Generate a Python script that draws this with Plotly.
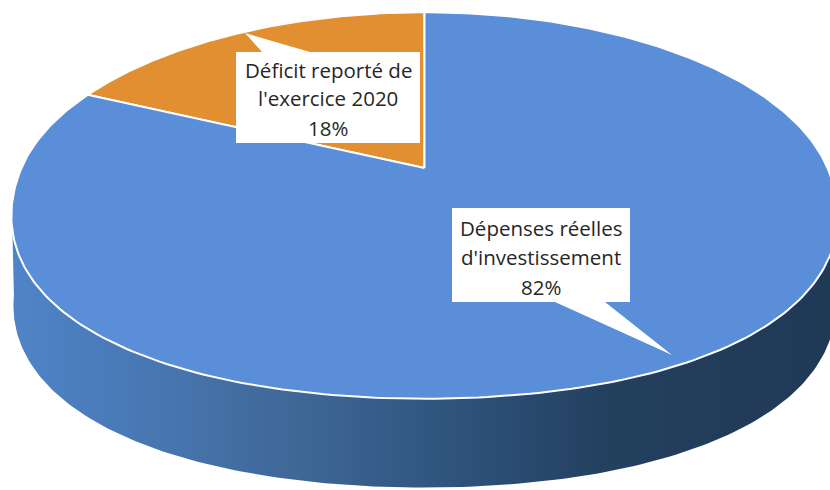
import numpy as np
import plotly.graph_objects as go

categories = ["Déficit reporté de l'exercice 2020", "Dépenses réelles d'investissement"]
values = [18, 82]
percent_labels = ["18%", "82%"]
label_lines = [["Déficit reporté de", "l'exercice 2020", "18%"],
               ["Dépenses réelles", "d'investissement", "82%"]]
slice_colors = ["#e28f31", "#5a8ed8"]

# perspective of the tilted pie
CX, CY, A, B, K = 424.5, 168, 403, 186, 0.194
BULGE = 0.03
DEPTH, BASE_SCALE = 90, 0.995
FONT = "Open Sans"


def project(theta, dy=0.0, s=1.0):
    """theta measured clockwise from the back of the pie, radians"""
    u, v = np.sin(theta), np.cos(theta)
    r = 1 + BULGE * np.sin(2 * theta) ** 2 * (v < 0)
    u, v = u * r, v * r
    d = 1 + K * v
    return CX + s * A * u / d, CY + dy - s * B * v / d


fig = go.Figure()

# side wall
tang = np.pi / 2 + np.arcsin(K)
th = np.linspace(tang, 2 * np.pi - tang, 200)
xb, yb = project(th, DEPTH, BASE_SCALE)
xt, yt = project(th[::-1])
fig.add_trace(go.Scatter(
    x=np.r_[xb, xt], y=np.r_[yb, yt], mode="lines", fill="toself",
    line=dict(color="rgba(0,0,0,0)", width=0),
    fillgradient=dict(type="horizontal", colorscale=[
        [0, "#4f84c8"], [0.12, "#4a7bb9"], [0.35, "#3f6796"], [0.51, "#305680"],
        [0.72, "#23405f"], [1, "#203955"]]),
    hoverinfo="skip", showlegend=False))

# top slices, drawn from the values
total = sum(values)
start = -values[0] / total * 2 * np.pi
for name, val, col in zip(categories, values, slice_colors):
    sweep = val / total * 2 * np.pi
    th = np.linspace(start, start + sweep, 300)
    x, y = project(th)
    fig.add_trace(go.Scatter(
        x=np.r_[CX, x, CX], y=np.r_[CY, y, CY], mode="lines", fill="toself",
        fillcolor=col, line=dict(color="white", width=2), name=name,
        hoverinfo="skip", showlegend=False))
    start += sweep

# callout labels
boxes = [(236, 52, 420, 143), (452, 208, 630, 302)]
tips = [[(262, 52), (245, 33), (310, 52)], [(555, 302), (672, 355), (605, 302)]]
line_y = [[70, 98, 128], [228, 257, 287]]
shapes, annotations = [], []
for box, tip, lines, ys in zip(boxes, tips, label_lines, line_y):
    shapes.append(dict(type="rect", x0=box[0], y0=box[1], x1=box[2], y1=box[3],
                       fillcolor="white", line_width=0, layer="above"))
    path = "M " + " L ".join(f"{a} {b}" for a, b in tip) + " Z"
    shapes.append(dict(type="path", path=path, fillcolor="white", line_width=0, layer="above"))
    for t, yy in zip(lines, ys):
        annotations.append(dict(x=(box[0] + box[2]) / 2, y=yy, text=t, showarrow=False,
                                xanchor="center", yanchor="middle",
                                font=dict(family=FONT, size=20.5, color="#262626")))

fig.update_layout(
    width=830, height=490, margin=dict(l=0, r=0, t=0, b=0),
    paper_bgcolor="white", plot_bgcolor="white", showlegend=False,
    xaxis=dict(range=[0, 830], visible=False, fixedrange=True),
    yaxis=dict(range=[490, 0], visible=False, fixedrange=True),
    shapes=shapes, annotations=annotations)

fig.write_html("out.html", config=dict(displayModeBar=False),
               post_script="document.body.style.margin='0';document.documentElement.style.overflow='hidden';")
